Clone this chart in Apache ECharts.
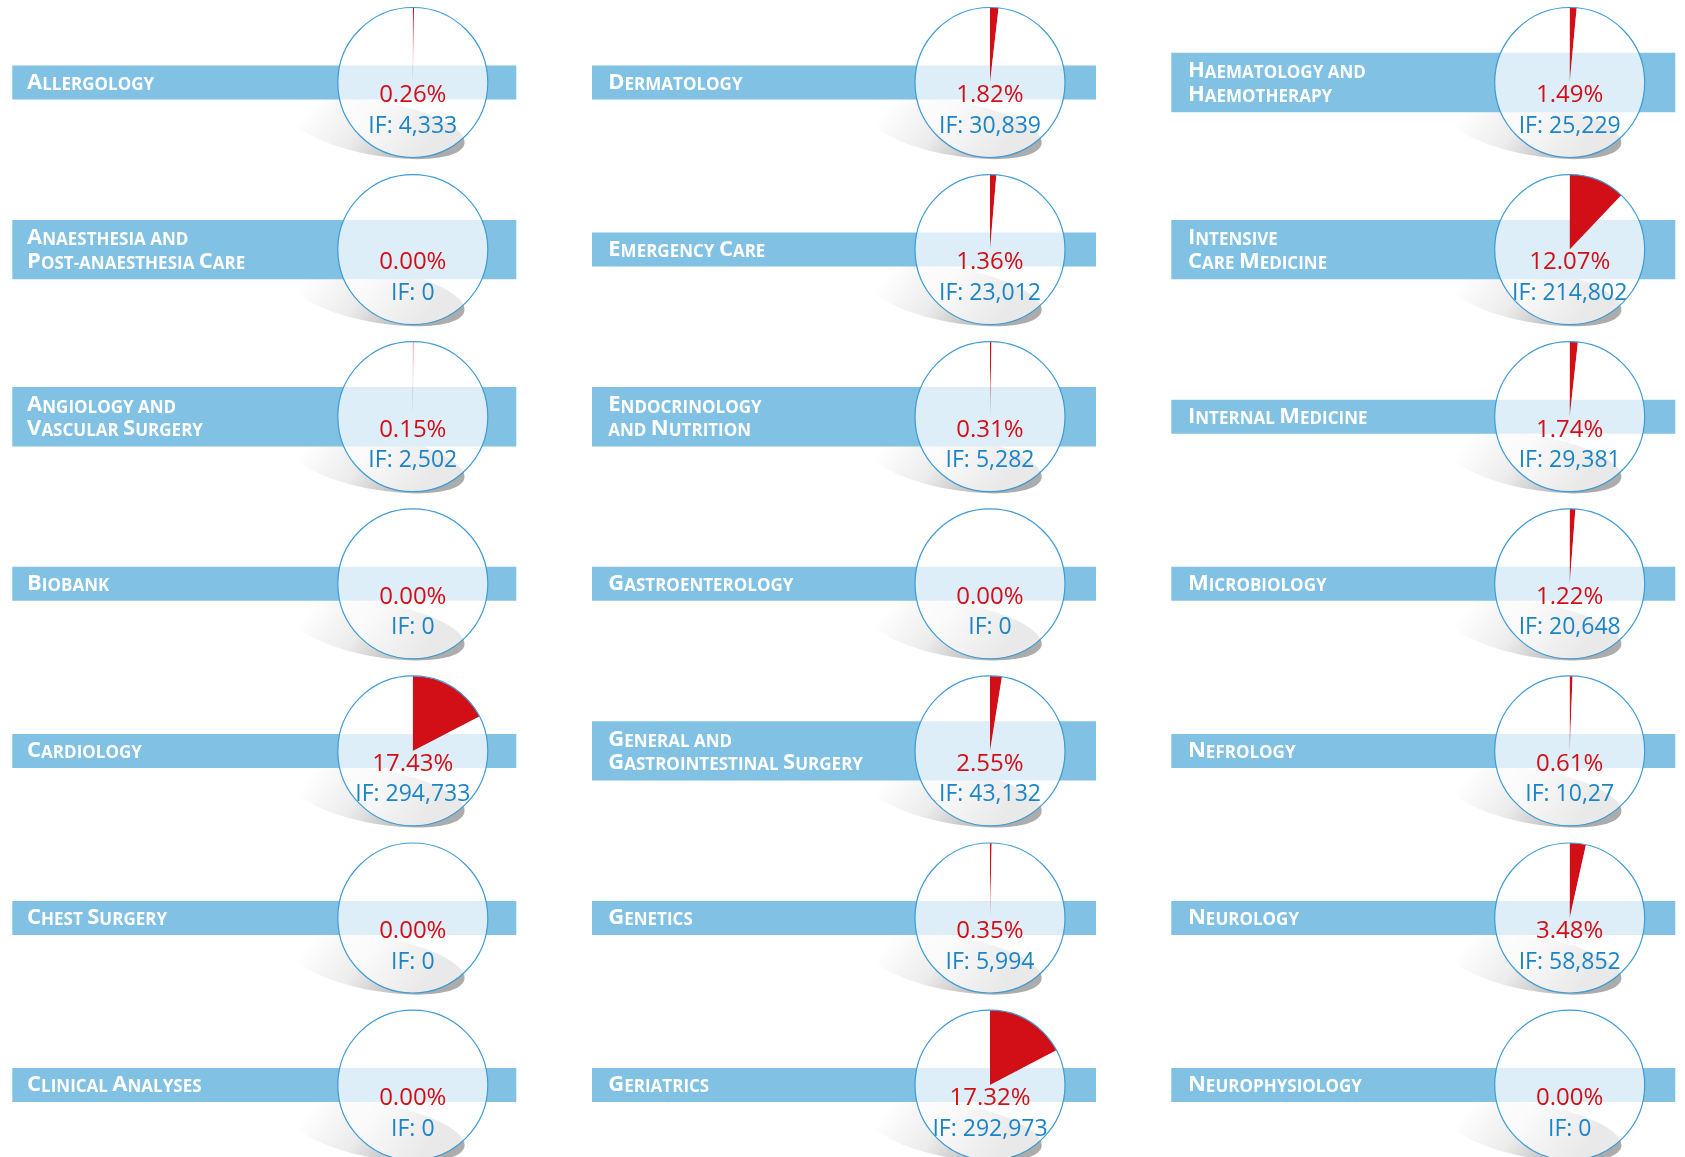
<!DOCTYPE html>
<html>
<head>
<meta charset="utf-8">
<script src="https://cdn.jsdelivr.net/npm/echarts@6/dist/echarts.min.js"></script>
<style>
  html, body { margin: 0; padding: 0; background: #ffffff; }
  #chart { width: 1685px; height: 1157px; }
</style>
</head>
<body>
<div id="chart"></div>
<script>
// Departments, listed column by column (top to bottom)
const departments = [
  'Allergology',
  'Anaesthesia and\nPost-anaesthesia Care',
  'Angiology and\nVascular Surgery',
  'Biobank',
  'Cardiology',
  'Chest Surgery',
  'Clinical Analyses',
  'Dermatology',
  'Emergency Care',
  'Endocrinology\nand Nutrition',
  'Gastroenterology',
  'General and\nGastrointestinal Surgery',
  'Genetics',
  'Geriatrics',
  'Haematology and\nHaemotherapy',
  'Intensive\nCare Medicine',
  'Internal Medicine',
  'Microbiology',
  'Nefrology',
  'Neurology',
  'Neurophysiology'
];

// Share of the total impact factor (%)
const shares = [
  0.26, 0.00, 0.15, 0.00, 17.43, 0.00, 0.00,
  1.82, 1.36, 0.31, 0.00, 2.55, 0.35, 17.32,
  1.49, 12.07, 1.74, 1.22, 0.61, 3.48, 0.00
];

// Impact factor as printed
const impactFactors = [
  '4,333', '0', '2,502', '0', '294,733', '0', '0',
  '30,839', '23,012', '5,282', '0', '43,132', '5,994', '292,973',
  '25,229', '214,802', '29,381', '20,648', '10,27', '58,852', '0'
];

const ROWS = 7;
const colX = [412.8, 990, 1569.7];
const bandLeft = [-400.5, -398, -398.4];   // band start relative to the disc centre
const textLeft = [-386, -382, -382];       // label start relative to the disc centre
const rowY0 = 82.5;
const rowStep = 167.1;
const R = 75;

const BAR_BLUE = '#80c1e4';
const RED = '#d20e17';
const BLUE_TEXT = '#1b84c6';
const RING = '#3f9bd4';
const FONT = '"Open Sans", "Noto Sans", sans-serif';

// Turn a mixed-case line into small-caps rich text tokens
function smallCaps(line) {
  let out = '{strut| }';
  let i = 0;
  while (i < line.length) {
    const ch = line[i];
    if (/[A-Z]/.test(ch)) {
      out += '{b|' + ch + '}';
      i++;
    } else {
      let j = i;
      while (j < line.length && !/[A-Z]/.test(line[j])) j++;
      out += '{s|' + line.slice(i, j).toUpperCase() + '}';
      i = j;
    }
  }
  return out;
}

const LINE_H = 23.4;
const capsRich = {
  strut: { fontSize: 1, lineHeight: LINE_H, verticalAlign: 'bottom' },
  b: { fontSize: 22, fontWeight: 700, fontFamily: FONT, fill: '#ffffff', lineHeight: 22 * 0.776, verticalAlign: 'bottom' },
  s: { fontSize: 17, fontWeight: 700, fontFamily: FONT, fill: '#ffffff', lineHeight: 17 * 0.776, verticalAlign: 'bottom' }
};

const graphics = [];
const series = [];

departments.forEach((name, k) => {
  const col = Math.floor(k / ROWS);
  const row = k % ROWS;
  const cx = colX[col];
  const cy = rowY0 + row * rowStep;
  const lines = name.split('\n');
  const barH = lines.length === 1 ? 34 : 59.4;

  // soft drop shadow under the disc
  graphics.push({
    type: 'ellipse',
    x: cx - 35, y: cy + 46,
    rotation: -0.175,
    shape: { cx: 0, cy: 0, rx: 88, ry: 27 },
    silent: true,
    z: 0,
    style: {
      fill: {
        type: 'linear', x: 0.15, y: 0, x2: 0.75, y2: 1,
        colorStops: [
          { offset: 0, color: '#ffffff' },
          { offset: 0.45, color: '#ececec' },
          { offset: 1, color: '#acacac' }
        ]
      }
    }
  });

  // name band
  graphics.push({
    type: 'rect',
    silent: true,
    z: 1,
    shape: { x: cx + bandLeft[col], y: cy - barH / 2, width: 504, height: barH },
    style: { fill: BAR_BLUE }
  });

  // name text
  const firstBaseline = lines.length === 1 ? cy + 11 : cy - 0.5;
  graphics.push({
    type: 'text',
    silent: true,
    z: 10,
    x: cx + textLeft[col],
    y: firstBaseline - LINE_H,
    style: {
      text: lines.map(smallCaps).join('\n'),
      rich: capsRich,
      align: 'left',
      verticalAlign: 'top',
      fill: '#ffffff'
    }
  });

  // ring outline
  graphics.push({
    type: 'circle',
    silent: true,
    z: 6,
    shape: { cx: cx, cy: cy, r: R },
    style: { fill: 'none', stroke: RING, lineWidth: 1.2 }
  });

  const share = shares[k];
  series.push({
    type: 'pie',
    silent: true,
    z: 5,
    center: [cx, cy],
    radius: [0, R],
    startAngle: 90,
    clockwise: true,
    animation: false,
    labelLine: { show: false },
    itemStyle: { borderWidth: 0 },
    emphasis: { disabled: true },
    data: [
      { value: share, itemStyle: { color: RED }, label: { show: false } },
      {
        value: 100 - share,
        itemStyle: { color: 'rgba(255,255,255,0.73)' },
        label: {
          show: true,
          position: 'center',
          padding: [58, 0, 0, 0],
          formatter: () => '{p|' + share.toFixed(2) + '%}\n{i|IF: ' + impactFactors[k] + '}',
          rich: {
            p: { fontSize: 24, fontFamily: FONT, color: RED, lineHeight: 30 },
            i: { fontSize: 23, fontFamily: FONT, color: BLUE_TEXT, lineHeight: 32 }
          }
        }
      }
    ]
  });
});

const chart = echarts.init(document.getElementById('chart'), null, { renderer: 'canvas' });
chart.setOption({
  backgroundColor: '#ffffff',
  animation: false,
  graphic: { elements: graphics },
  series: series
});
</script>
</body>
</html>
